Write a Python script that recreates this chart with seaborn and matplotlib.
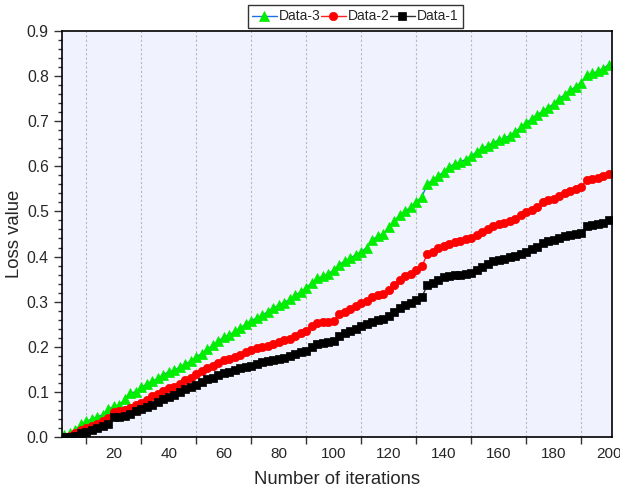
import numpy as np
import pandas as pd
import matplotlib
matplotlib.use("Agg")
import matplotlib.pyplot as plt
import seaborn as sns
from matplotlib.ticker import FixedLocator, MultipleLocator

iterations = list(range(2, 201, 2))

data3 = [0.005, 0.008, 0.015, 0.028, 0.035, 0.040, 0.045, 0.050, 0.062, 0.068,
         0.070, 0.085, 0.098, 0.100, 0.110, 0.118, 0.124, 0.130, 0.138, 0.145,
         0.148, 0.155, 0.162, 0.168, 0.178, 0.185, 0.195, 0.203, 0.212, 0.222,
         0.226, 0.234, 0.242, 0.250, 0.258, 0.264, 0.270, 0.278, 0.286, 0.292,
         0.298, 0.305, 0.314, 0.322, 0.330, 0.342, 0.352, 0.356, 0.362, 0.370,
         0.382, 0.390, 0.396, 0.404, 0.410, 0.420, 0.436, 0.446, 0.450, 0.465,
         0.478, 0.492, 0.500, 0.510, 0.520, 0.532, 0.560, 0.570, 0.578, 0.588,
         0.598, 0.605, 0.610, 0.615, 0.622, 0.632, 0.640, 0.645, 0.652, 0.658,
         0.662, 0.668, 0.676, 0.686, 0.696, 0.705, 0.714, 0.722, 0.730, 0.738,
         0.750, 0.758, 0.768, 0.776, 0.785, 0.802, 0.806, 0.810, 0.816, 0.825]

data2 = [0.000, 0.002, 0.008, 0.015, 0.020, 0.025, 0.030, 0.035, 0.042, 0.055,
         0.057, 0.059, 0.064, 0.070, 0.076, 0.082, 0.090, 0.096, 0.102, 0.108,
         0.112, 0.118, 0.126, 0.132, 0.140, 0.146, 0.152, 0.158, 0.164, 0.170,
         0.174, 0.178, 0.182, 0.188, 0.194, 0.198, 0.200, 0.202, 0.206, 0.210,
         0.214, 0.218, 0.224, 0.230, 0.236, 0.246, 0.252, 0.254, 0.256, 0.258,
         0.272, 0.278, 0.284, 0.290, 0.296, 0.302, 0.310, 0.314, 0.318, 0.326,
         0.338, 0.348, 0.356, 0.362, 0.370, 0.378, 0.405, 0.410, 0.418, 0.424,
         0.428, 0.432, 0.434, 0.438, 0.442, 0.448, 0.454, 0.462, 0.468, 0.472,
         0.474, 0.478, 0.484, 0.492, 0.498, 0.504, 0.510, 0.520, 0.526, 0.528,
         0.534, 0.540, 0.546, 0.550, 0.554, 0.570, 0.572, 0.574, 0.578, 0.582]

data1 = [0.000, 0.000, 0.002, 0.008, 0.012, 0.016, 0.020, 0.025, 0.030, 0.044,
         0.045, 0.047, 0.052, 0.058, 0.063, 0.066, 0.072, 0.078, 0.084, 0.089,
         0.094, 0.100, 0.106, 0.110, 0.116, 0.122, 0.128, 0.132, 0.137, 0.142,
         0.145, 0.148, 0.152, 0.155, 0.157, 0.162, 0.166, 0.168, 0.170, 0.172,
         0.176, 0.180, 0.184, 0.188, 0.190, 0.200, 0.206, 0.208, 0.210, 0.212,
         0.224, 0.230, 0.236, 0.240, 0.246, 0.250, 0.256, 0.260, 0.262, 0.268,
         0.278, 0.286, 0.292, 0.298, 0.304, 0.310, 0.336, 0.342, 0.348, 0.354,
         0.356, 0.358, 0.360, 0.362, 0.364, 0.370, 0.376, 0.384, 0.390, 0.392,
         0.394, 0.398, 0.402, 0.406, 0.410, 0.416, 0.422, 0.430, 0.434, 0.436,
         0.440, 0.446, 0.448, 0.450, 0.452, 0.468, 0.470, 0.472, 0.474, 0.480]

x_tick_marks = [10, 30, 50, 70, 90, 110, 130, 150, 170, 190]
x_tick_labels = [20, 40, 60, 80, 100, 120, 140, 160, 180, 200]

sns.set_style("ticks")
plt.rcParams['font.family'] = ['Liberation Sans', 'DejaVu Sans']

fig = plt.figure(figsize=(6.2, 4.9), dpi=100)
ax = fig.add_axes([0.100, 0.108, 0.887, 0.829])
ax.set_facecolor('#F0F2FD')

series = [
    ("Data-3", data3, '#1E6FE8', '#00EE00', '^', 6.5),
    ("Data-2", data2, '#FF2020', '#FF0000', 'o', 6.0),
    ("Data-1", data1, '#333333', '#000000', 's', 5.5),
]
for name, vals, lc, mc, mk, ms in series:
    df = pd.DataFrame({"x": iterations, "y": vals})
    sns.lineplot(data=df, x="x", y="y", ax=ax, color=lc, linewidth=1.0,
                 marker=mk, markersize=ms, markerfacecolor=mc,
                 markeredgecolor=mc, markeredgewidth=0.5, label=name)

ax.set_xlim(1.1, 201.2)
ax.set_ylim(0, 0.9)

ax.xaxis.set_major_locator(FixedLocator(x_tick_marks))
ax.xaxis.set_minor_locator(FixedLocator(x_tick_labels))
ax.xaxis.set_major_formatter(plt.NullFormatter())
ax.xaxis.set_minor_formatter(plt.FuncFormatter(lambda v, p: f"{int(v)}"))
ax.tick_params(axis='x', which='major', direction='out', length=5, width=1, color='#333333')
ax.tick_params(axis='x', which='minor', length=0, labelsize=11, pad=7)

ax.yaxis.set_major_locator(MultipleLocator(0.1))
ax.yaxis.set_minor_locator(MultipleLocator(0.02))
ax.yaxis.set_major_formatter(plt.FuncFormatter(lambda v, p: f"{v:.1f}"))
ax.tick_params(axis='y', which='major', direction='out', length=6, width=1, labelsize=11.3, color='#333333')
ax.tick_params(axis='y', which='minor', direction='out', length=3, width=1, color='#333333')

ax.grid(axis='x', which='major', color='#B8B8C0', linestyle=(0, (2, 2)), linewidth=0.8)
ax.grid(axis='y', visible=False)

for s in ax.spines.values():
    s.set_visible(True)
    s.set_color('black')
    s.set_linewidth(1.2)

ax.set_xlabel("Number of iterations", fontsize=13.3, labelpad=7)
ax.set_ylabel("Loss value", fontsize=13.3, labelpad=3)

leg = ax.legend(loc='lower center', bbox_to_anchor=(0.533, 1.008),
                ncol=3, frameon=True, fancybox=False,
                handlelength=1.8, handletextpad=0.15, columnspacing=0.0,
                borderpad=0.3, borderaxespad=0, fontsize=10)
leg.get_frame().set_edgecolor('black')
leg.get_frame().set_linewidth(1.0)

fig.savefig("out.png", dpi=100, facecolor='white')
